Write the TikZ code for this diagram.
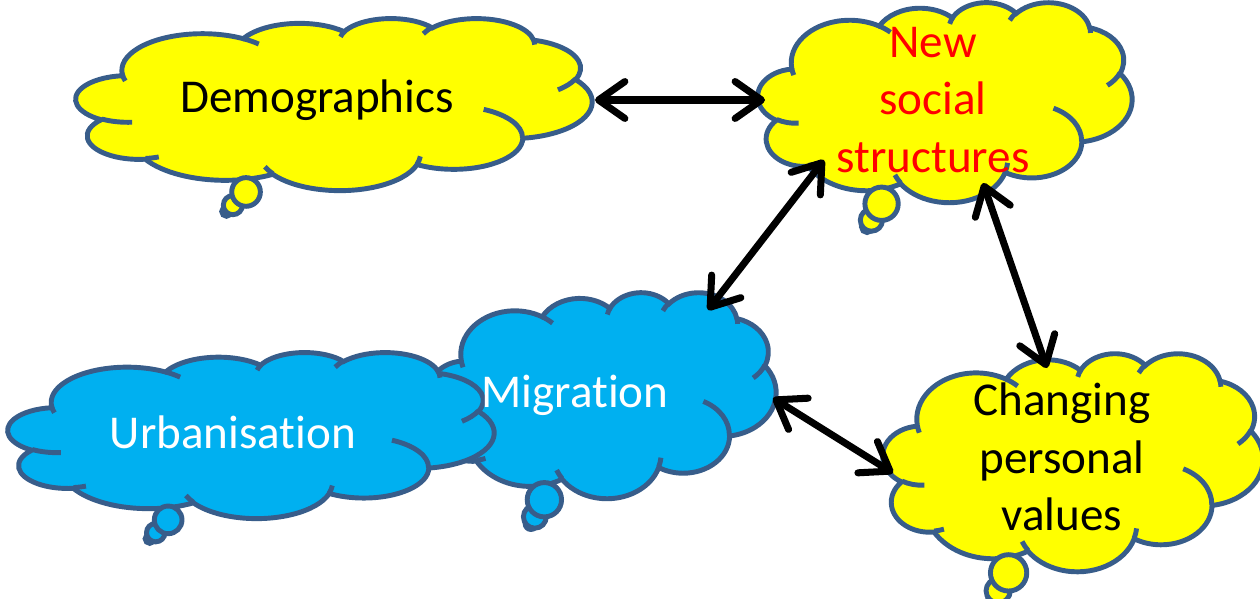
\documentclass[tikz,border=0pt]{standalone}
\usepackage{fontspec}
\setmainfont{Carlito}[Ligatures=NoCommon]
\usepackage{xcolor}
\usepackage{tikz}
\usetikzlibrary{arrows.meta, positioning}

\definecolor{cloudedge}{RGB}{56,93,138}
\definecolor{cloudyellow}{RGB}{255,255,0}
\definecolor{cloudblue}{RGB}{0,176,240}

% one arc of a cloud, radii and (visual) angles as in the office shape
\newcommand\carc[4]{ arc[start angle={atan2(#1*sin(#3),#2*cos(#3))},
  delta angle={mod(atan2(#1*sin(#3+#4),#2*cos(#3+#4))-atan2(#1*sin(#3),#2*cos(#3))+720,360)},
  x radius=#1, y radius=#2]}

% cloud with its three bubbles: left, top, width, height, fill
\newcommand\thoughtcloud[5]{%
  \pgfmathsetmacro\csx{0.02*#3/43.2}\pgfmathsetmacro\csy{-0.02*#4/43.2}
  \begin{scope}[shift={(#1,#2)}, x=\csx cm, y=\csy cm]
    \draw[cloudline, fill=#5] (3.900,14.370)
      \carc{6.753}{9.190}{-190.48748}{123.78053}
      \carc{5.333}{7.267}{-144.10238}{89.94523}
      \carc{4.365}{5.945}{-145.80792}{99.72302}
      \carc{4.857}{6.595}{-130.98607}{117.24173}
      \carc{5.333}{7.273}{-78.70888}{109.02692}
      \carc{6.775}{9.220}{-46.26725}{130.269}
      \carc{5.785}{7.867}{0.62502}{114.03333}
      \carc{6.752}{9.215}{22.4516}{115.17255}
      \carc{7.720}{10.543}{66.24263}{75.71102}
      \carc{4.360}{5.918}{-274.94208}{146.73557}
      \carc{4.345}{5.945}{-246.8285}{152.51885} -- cycle;
  \end{scope}
  \pgfmathsetmacro\cdx{-0.20833*#3}\pgfmathsetmacro\cdy{0.625*#4}
  \pgfmathsetmacro\cphi{atan2(\cdy,\cdx)}
  \pgfmathsetmacro\cpsi{atan2(#3/2*sin(\cphi),#4/2*cos(\cphi))}
  \pgfmathsetmacro\cgx{#3/2*cos(\cpsi)-\cdx}\pgfmathsetmacro\cgy{#4/2*sin(\cpsi)-\cdy}
  \pgfmathsetmacro\cgl{veclen(\cgx,\cgy)}
  \pgfmathsetmacro\css{min(#3,#4)}
  \pgfmathsetmacro\cgk{(\cgl-\css*11/36)/3}
  \pgfmathsetmacro\cmid{(\cgk+\css/12)/\cgl}
  \pgfmathsetmacro\cbig{(\css*2/9+2*\cgk)/\cgl}
  \pgfmathsetmacro\ctx{#1+#3/2+\cdx}\pgfmathsetmacro\cty{#2+#4/2+\cdy}
  \pgfmathsetmacro\rsmall{\css/36}\pgfmathsetmacro\rmid{\css/18}\pgfmathsetmacro\rbig{\css/12}
  \draw[cloudline, fill=#5] (\ctx,\cty) circle[radius=\rsmall];
  \draw[cloudline, fill=#5] (\ctx+\cmid*\cgx,\cty+\cmid*\cgy) circle[radius=\rmid];
  \draw[cloudline, fill=#5] (\ctx+\cbig*\cgx,\cty+\cbig*\cgy) circle[radius=\rbig];
  \begin{scope}[shift={(#1,#2)}, x=\csx cm, y=\csy cm]
    \draw[cloudline] (4.693,26.177) \carc{4.345}{5.945}{86.742}{26.4295}
      (6.928,34.899) \carc{4.360}{5.918}{73.61047}{11.44747}
      (16.478,39.090) \carc{6.752}{9.215}{137.62415}{14.0811}
      (28.827,34.751) \carc{6.752}{9.215}{6.45327}{15.99835}
      (34.129,22.954) \carc{5.785}{7.867}{-70.29235}{70.91737}
      (41.798,15.354) \carc{5.333}{7.273}{30.31803}{27.7515}
      (38.324,5.426) \carc{4.857}{6.595}{-13.74433}{14.8589}
      (29.078,3.952) \carc{4.857}{6.595}{-149.18145}{18.19537}
      (22.141,4.720) \carc{4.365}{5.945}{-163.49427}{17.68635}
      (14.000,5.192) \carc{6.753}{9.190}{-66.70695}{12.31935}
      (4.127,15.789) \carc{6.753}{9.190}{157.65435}{11.85817};
  \end{scope}}

\begin{document}
\begin{tikzpicture}[x=0.02cm, y=-0.02cm,
    cloudline/.style={draw=cloudedge, line width=2.8pt},
    word/.style={font=\fontsize{26.8}{32.6}\selectfont, align=center, inner sep=0pt},
    link/.style={line width=4pt, >={Straight Barb[round, length=15pt, width=21pt]}, <->}]
  \useasboundingbox (0,0) rectangle (1260,598);
  % clouds
  \thoughtcloud{76}{18}{516}{172}{cloudyellow}
  \thoughtcloud{758}{2}{374}{200}{cloudyellow}
  \thoughtcloud{883}{353}{380}{218}{cloudyellow}
  \thoughtcloud{430}{292}{346}{206}{cloudblue}
  \thoughtcloud{8}{352}{486}{166}{cloudblue}
  % texts
  \node[word] (Demographics) at (317,100) {Demographics};
  \node[word, red] (Social) at (933,100) {New\\social\\structures};
  \node[word, white] (Migration) at (575,395) {Migration};
  \node[word, white] (Urbanisation) at (233,432) {Urbanisation};
  \node[word] (Values) at (1062,457) {Changing\\personal\\values};
  % arrow ends on the clouds
  \coordinate (demo-e) at (595,100);
  \coordinate (soc-w) at (765,100);
  \coordinate (soc-sw) at (824,160);
  \coordinate (mig-ne) at (708,310);
  \coordinate (soc-se) at (983,183);
  \coordinate (val-n) at (1047,368);
  \coordinate (mig-e) at (773,398);
  \coordinate (val-w) at (893,473);
  \draw[link] (demo-e) -- (soc-w);
  \draw[link] (soc-sw) -- (mig-ne);
  \draw[link] (soc-se) -- (val-n);
  \draw[link] (mig-e) -- (val-w);
\end{tikzpicture}
\end{document}
